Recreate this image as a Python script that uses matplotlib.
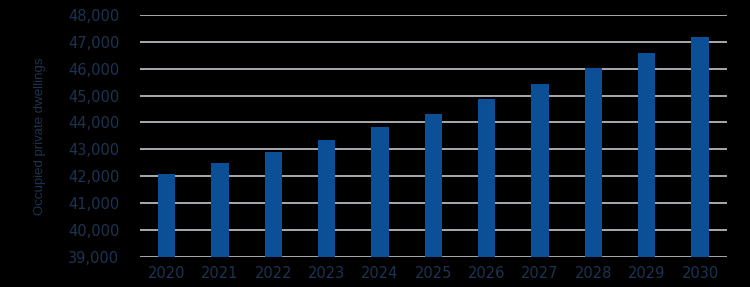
import matplotlib
matplotlib.use("Agg")
import matplotlib.pyplot as plt
from matplotlib.ticker import FuncFormatter

# data
years = ["2020", "2021", "2022", "2023", "2024", "2025", "2026", "2027", "2028", "2029", "2030"]
dwellings = [42100, 42500, 42900, 43360, 43820, 44320, 44860, 45420, 46020, 46580, 47160]
y_ticks = [39000, 40000, 41000, 42000, 43000, 44000, 45000, 46000, 47000, 48000]

bar_col = "#0b5096"
text_col = "#1c3352"
grid_col = "#c4c8cc"

plt.rcParams["font.family"] = ["DejaVu Sans"]

fig = plt.figure(figsize=(7.5, 2.87), dpi=100, facecolor="black")
ax = fig.add_axes([0.1867, 0.1035, 0.7822, 0.8455], facecolor="black")

ax.set_axisbelow(True)
ax.yaxis.grid(True, color=grid_col, linewidth=1.2)
ax.bar(range(len(years)), dwellings, width=0.32, color=bar_col, zorder=3)

ax.set_xlim(-0.5, len(years) - 0.5)
ax.set_ylim(39000, 48000)
ax.set_yticks(y_ticks)
ax.yaxis.set_major_formatter(FuncFormatter(lambda v, p: f"{int(v):,}"))
ax.set_xticks(range(len(years)))
ax.set_xticklabels(years)

for s in ax.spines.values():
    s.set_visible(False)
ax.tick_params(length=0, colors=text_col, labelsize=10.5)
ax.tick_params(axis="y", pad=15)
ax.tick_params(axis="x", pad=6)

# condensed look: smaller Liberation Sans
ax.set_ylabel("Occupied private dwellings", color=text_col, fontsize=9.5,
              family=["Liberation Sans"])
ax.yaxis.set_label_coords(-0.16, 0.5)

fig.savefig("out.png", dpi=100, facecolor="black")
